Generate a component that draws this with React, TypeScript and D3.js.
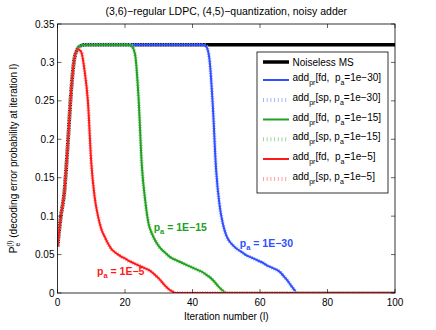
import React from "react";
import * as d3 from "d3";

const title = "(3,6)\u2212regular LDPC, (4,5)\u2212quantization, noisy adder";
const xTicks = [0, 20, 40, 60, 80, 100];
const yTicks = [0, 0.05, 0.1, 0.15, 0.2, 0.25, 0.3, 0.35];
const yTickLabels = ["0", "0.05", "0.1", "0.15", "0.2", "0.25", "0.3", "0.35"];

const noiselessIter = [0, 1, 2, 3, 4, 5, 6, 7, 8, 100];
const noiselessVal = [0.06, 0.1, 0.13, 0.19, 0.26, 0.305, 0.318, 0.322, 0.323, 0.323];

const blueIter = [0, 1, 2, 3, 4, 5, 6, 7, 8, 43, 44, 45, 46, 47, 48, 49, 50, 51, 52, 53, 54, 55, 56, 57, 58, 59, 60, 61, 62, 63, 64, 65, 66, 67, 68, 69, 70, 71, 100];
const blueVal = [0.06, 0.1, 0.13, 0.19, 0.26, 0.305, 0.318, 0.322, 0.323, 0.323, 0.321, 0.305, 0.245, 0.16, 0.115, 0.09, 0.075, 0.067, 0.062, 0.058, 0.055, 0.052, 0.049, 0.047, 0.045, 0.043, 0.041, 0.039, 0.036, 0.034, 0.032, 0.03, 0.027, 0.022, 0.017, 0.011, 0.005, 0, 0];

const greenIter = [0, 1, 2, 3, 4, 5, 6, 7, 8, 21, 22, 23, 24, 25, 26, 27, 28, 29, 30, 31, 32, 33, 34, 35, 36, 37, 38, 39, 40, 41, 42, 43, 44, 45, 46, 47, 48, 49, 50, 100];
const greenVal = [0.06, 0.1, 0.13, 0.19, 0.26, 0.305, 0.318, 0.322, 0.323, 0.323, 0.321, 0.31, 0.255, 0.165, 0.12, 0.09, 0.077, 0.068, 0.061, 0.056, 0.052, 0.048, 0.045, 0.043, 0.041, 0.039, 0.037, 0.035, 0.033, 0.031, 0.029, 0.027, 0.024, 0.021, 0.017, 0.012, 0.007, 0.003, 0, 0];

const redIter = [0, 1, 2, 3, 4, 5, 6, 7, 8, 9, 10, 11, 12, 13, 14, 15, 16, 17, 18, 19, 20, 21, 22, 23, 24, 25, 26, 27, 28, 29, 30, 31, 32, 33, 34, 35, 100];
const redVal = [0.06, 0.1, 0.13, 0.19, 0.26, 0.305, 0.317, 0.314, 0.29, 0.25, 0.17, 0.125, 0.1, 0.083, 0.073, 0.064, 0.057, 0.053, 0.05, 0.047, 0.045, 0.042, 0.04, 0.038, 0.036, 0.034, 0.032, 0.03, 0.027, 0.023, 0.019, 0.014, 0.009, 0.005, 0.002, 0, 0];

const BLUE = "#2f50ff";
const GREEN = "#22a022";
const RED = "#ff1a1a";
const BLUE_L = "#a8b4ff";
const GREEN_L = "#9ad89a";
const RED_L = "#ffa0a0";

const FONT = "'Liberation Sans', Arial, Helvetica, sans-serif";

export default function App() {
  const left = 57.5, right = 395, top = 24, bottom = 293;
  const x = d3.scaleLinear().domain([0, 100]).range([left, right]);
  const y = d3.scaleLinear().domain([0, 0.35]).range([bottom, top]);
  const line = d3
    .line<[number, number]>()
    .x((d) => x(d[0]))
    .y((d) => y(d[1]))
    .curve(d3.curveMonotoneX);
  const path = (it: number[], v: number[]) => line(it.map((d, i) => [d, v[i]] as [number, number])) || "";

  const series = [
    { it: blueIter, v: blueVal, c: BLUE, l: BLUE_L },
    { it: greenIter, v: greenVal, c: GREEN, l: GREEN_L },
    { it: redIter, v: redVal, c: RED, l: RED_L },
  ];

  const legendRows = [
    { kind: "ms", y: 62 },
    { kind: "fd", c: BLUE, pa: "1e\u221230", y: 80 },
    { kind: "sp", c: BLUE_L, pa: "1e\u221230", y: 100 },
    { kind: "fd", c: GREEN, pa: "1e\u221215", y: 119.5 },
    { kind: "sp", c: GREEN_L, pa: "1e\u221215", y: 139.3 },
    { kind: "fd", c: RED, pa: "1e\u22125", y: 159 },
    { kind: "sp", c: RED_L, pa: "1e\u22125", y: 179 },
  ];

  return (
    <svg
      width={436}
      height={330}
      style={{ position: "absolute", left: 0, top: 0, background: "#fff" }}
      fontFamily={FONT}
    >
      <defs>
        <clipPath id="plotclip">
          <rect x={left} y={top} width={right - left} height={bottom - top} />
        </clipPath>
      </defs>
      <rect x={0} y={0} width={436} height={330} fill="#fff" />
      <text x={(left + right) / 2} y={15} textAnchor="middle" fontSize={10.5} fill="#000">
        {title}
      </text>

      <g clipPath="url(#plotclip)">
        <path d={path(noiselessIter, noiselessVal)} fill="none" stroke="#000" strokeWidth={3.5} />
        {series.map((s, i) => (
          <g key={i}>
            <path d={path(s.it, s.v)} fill="none" stroke={s.l} strokeWidth={4} strokeDasharray="1 1.5" />
            <path d={path(s.it, s.v)} fill="none" stroke={s.c} strokeWidth={2} />
          </g>
        ))}
      </g>

      {/* axes box */}
      <rect x={left} y={top} width={right - left} height={bottom - top} fill="none" stroke="#000" strokeWidth={0.8} />
      {xTicks.map((t) => (
        <g key={"x" + t}>
          <line x1={x(t)} x2={x(t)} y1={bottom} y2={bottom - 4} stroke="#000" strokeWidth={0.6} />
          <line x1={x(t)} x2={x(t)} y1={top} y2={top + 4} stroke="#000" strokeWidth={0.6} />
          <text x={x(t)} y={bottom + 13} textAnchor="middle" fontSize={10} fill="#000">
            {t}
          </text>
        </g>
      ))}
      {yTicks.map((t, i) => (
        <g key={"y" + t}>
          <line x1={left} x2={left + 4} y1={y(t)} y2={y(t)} stroke="#000" strokeWidth={0.6} />
          <line x1={right} x2={right - 4} y1={y(t)} y2={y(t)} stroke="#000" strokeWidth={0.6} />
          <text x={left - 3} y={y(t) + 3.5} textAnchor="end" fontSize={10} fill="#000">
            {yTickLabels[i]}
          </text>
        </g>
      ))}
      <text x={(left + right) / 2} y={bottom + 27} textAnchor="middle" fontSize={10} fill="#000">
        Iteration number (l)
      </text>
      <text
        transform={`translate(17,${(top + bottom) / 2}) rotate(-90)`}
        textAnchor="middle"
        fontSize={10}
        fill="#000"
      >
        P<tspan fontSize={7} dy={3}>e</tspan>
        <tspan fontSize={7} dx={-4} dy={-8}>(l)</tspan>
        <tspan dy={5}> (decoding error probability at iteration l)</tspan>
      </text>

      {/* annotations */}
      <text x={x(28.5)} y={231} fontSize={10.5} fontWeight="bold" fill={GREEN}>
        p<tspan fontSize={7.5} dy={3}>a</tspan>
        <tspan dy={-3}> = 1E{"\u2212"}15</tspan>
      </text>
      <text x={x(54)} y={247} fontSize={10.5} fontWeight="bold" fill={BLUE}>
        p<tspan fontSize={7.5} dy={3}>a</tspan>
        <tspan dy={-3}> = 1E{"\u2212"}30</tspan>
      </text>
      <text x={x(11.7)} y={275} fontSize={10.5} fontWeight="bold" fill={RED}>
        p<tspan fontSize={7.5} dy={3}>a</tspan>
        <tspan dy={-3}> = 1E{"\u2212"}5</tspan>
      </text>

      {/* legend */}
      <rect x={257} y={52} width={131} height={141} fill="#fff" stroke="#000" strokeWidth={0.8} />
      {legendRows.map((r, i) => (
        <g key={"lg" + i}>
          {r.kind === "ms" ? (
            <line x1={263} x2={289} y1={r.y} y2={r.y} stroke="#000" strokeWidth={3.5} />
          ) : r.kind === "fd" ? (
            <line x1={263} x2={289} y1={r.y} y2={r.y} stroke={r.c} strokeWidth={2} />
          ) : (
            <line x1={263} x2={289} y1={r.y} y2={r.y} stroke={r.c} strokeWidth={4} strokeDasharray="1 2.7" />
          )}
          {r.kind === "ms" ? (
            <text x={292.5} y={r.y + 3.5} fontSize={10} fill="#000">
              Noiseless MS
            </text>
          ) : (
            <text x={292.5} y={r.y + 1} fontSize={10} fill="#000">
              add<tspan fontSize={7} dy={4}>pr</tspan>
              <tspan dy={-4}>[{r.kind},{r.kind === "fd" ? " \u00a0" : " "}p</tspan>
              <tspan fontSize={7} dy={4}>a</tspan>
              <tspan dy={-4}>={r.pa}]</tspan>
            </text>
          )}
        </g>
      ))}
    </svg>
  );
}
